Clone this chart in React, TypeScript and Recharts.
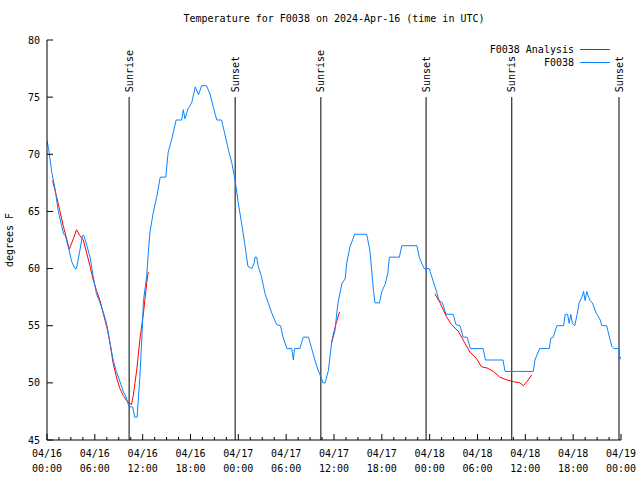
import * as React from 'react';
import { LineChart, Line, XAxis, YAxis, ReferenceLine } from 'recharts';

const FONT = '"DejaVu Sans Mono", "Liberation Mono", monospace';
const OBS_COLOR = '#0a84ff';
const ANA_COLOR = '#ff0000';

// station observations (hours since 04/16 00:00 UTC, degrees F)
const obsHours = [
  0.0, 0.2, 0.4, 0.6, 1.0, 1.4, 1.85, 2.1, 2.3, 2.7, 3.1, 3.5, 3.7, 4.1, 4.45, 4.6, 4.8, 5.0,
  5.4, 5.8, 6.2, 6.6, 7.1, 7.5, 7.9, 8.3, 8.7, 9.2, 9.6, 9.9, 10.2, 10.3, 10.75, 11.0, 11.3,
  11.65, 11.9, 12.1, 12.5, 12.7, 12.9, 13.3, 13.8, 14.2, 14.9, 15.2, 15.6, 16.2, 16.9, 17.1,
  17.3, 17.7, 18.15, 18.6, 19.0, 19.4, 20.0, 20.45, 20.9, 21.3, 21.9, 22.3, 22.75, 23.2, 23.6,
  24.0, 24.4, 24.8, 25.2, 25.7, 26.0, 26.1, 26.3, 26.5, 26.9, 27.35, 27.75, 28.2, 28.8, 29.3,
  29.6, 30.1, 30.7, 30.9, 31.05, 31.7, 32.15, 32.8, 33.2, 33.6, 34.0, 34.5, 34.6, 34.9, 35.0,
  35.3, 35.7, 36.1, 36.5, 37.0, 37.4, 37.6, 38.0, 38.6, 40.1, 40.5, 40.95, 41.15, 41.7, 42.0,
  42.4, 42.75, 42.95, 44.2, 44.5, 46.4, 46.7, 47.1, 47.3, 47.95, 48.4, 48.8, 49.2, 49.6, 50.05,
  50.95, 51.3, 51.8, 52.2, 52.7, 53.1, 54.7, 55.0, 57.2, 57.45, 61.0, 61.2, 61.8, 63.0, 63.2,
  63.5, 63.95, 64.8, 65.0, 65.3, 65.5, 65.7, 65.9, 66.2, 66.5, 66.75, 67.1, 67.3, 67.5, 67.7,
  68.1, 68.4, 68.9, 69.4, 69.6, 70.2, 70.55, 70.85, 71.1, 71.7, 71.8, 72.0,
];
const obsTemps = [
  71.2, 70.5, 69.5, 68.4, 67.0, 65.1, 63.7, 63.0, 62.9, 61.8, 60.6, 60.0, 60.0, 61.5, 62.9, 62.9, 62.5, 62.0,
  61.0, 59.3, 57.8, 57.1, 56.1, 55.1, 53.5, 52.0, 51.0, 50.0, 49.2, 48.8, 48.1, 47.9, 47.9, 47.0, 47.0,
  50.5, 54.0, 57.2, 59.3, 61.3, 63.1, 64.8, 66.4, 68.0, 68.0, 70.2, 71.2, 73.0, 73.0, 73.9,
  73.1, 74.0, 74.5, 75.9, 75.2, 76.0, 76.0, 75.3, 74.0, 73.0, 73.0, 71.8, 70.4, 69.2, 67.7,
  65.7, 64.0, 62.2, 60.2, 60.0, 60.5, 61.0, 61.0, 60.2, 59.3, 57.8, 57.0, 56.1, 55.1, 55.0,
  54.0, 53.0, 53.0, 52.0, 53.0, 53.0, 54.0, 54.0, 53.0, 52.0, 51.1, 50.3, 50.0, 50.0, 50.3,
  51.1, 53.5, 54.5, 57.0, 58.7, 59.1, 60.5, 61.9, 63.0, 63.0, 61.6, 58.1, 57.0, 57.0, 58.0,
  58.6, 59.6, 61.0, 61.0, 62.0, 62.0, 61.0, 60.3, 60.0, 60.0, 59.0, 58.1, 57.2, 57.0, 56.0,
  56.0, 55.1, 55.0, 54.0, 54.0, 53.0, 53.0, 52.0, 52.0, 51.0, 51.0, 52.0, 53.0, 53.0, 53.9,
  54.0, 55.0, 55.0, 56.0, 56.0, 55.2, 56.0, 55.2, 55.0, 56.0, 57.0, 57.5, 58.0, 57.2, 58.0,
  57.2, 57.0, 56.1, 55.5, 55.0, 55.0, 54.0, 53.2, 53.0, 53.0, 52.0, 52.3,
];

// analysis (three separate runs, null = gap)
const anaHours = [
  0.7, 1.2, 1.6, 2.05, 2.5, 2.8, 3.3, 3.7, 4.1, 4.55, 5.0, 5.4, 5.8, 6.2, 6.65, 7.05, 7.5, 7.9,
  8.3, 8.75, 9.15, 9.55, 10.05, 10.6, 10.8, 11.25, 11.65, 12.1, 12.5, 12.7,
  24.0,
  35.7, 36.0, 36.3, 36.7,
  42.0,
  48.65, 49.3, 50.1, 50.75, 51.6, 52.4, 53.05, 53.9, 54.5, 55.2, 56.0, 56.8, 57.7, 58.5, 59.3,
  59.75, 60.2, 60.8,
];
const anaTemps = [
  67.7, 66.3, 65.1, 63.7, 62.5, 61.7, 62.6, 63.4, 62.9, 62.5, 61.3, 60.2, 59.0, 58.1, 57.2, 56.1, 54.9, 53.5,
  51.7, 50.4, 49.5, 48.9, 48.4, 48.1, 48.8, 51.1, 53.8, 56.1, 58.7, 59.7,
  null,
  53.5, 54.5, 55.3, 56.2,
  null,
  57.8, 57.0, 55.8, 55.1, 54.5, 53.5, 52.7, 52.1, 51.4, 51.3, 51.0, 50.5, 50.25, 50.1, 50.0,
  49.75, 50.1, 50.7,
];

const sunEvents = [
  { h: 10.3, name: 'Sunrise' },
  { h: 23.6, name: 'Sunset' },
  { h: 34.35, name: 'Sunrise' },
  { h: 47.55, name: 'Sunset' },
  { h: 58.3, name: 'Sunrise' },
  { h: 71.75, name: 'Sunset' },
];

const dateLabels = ['04/16', '04/16', '04/16', '04/16', '04/17', '04/17', '04/17', '04/17', '04/18', '04/18', '04/18', '04/18', '04/19'];
const timeLabels = ['00:00', '06:00', '12:00', '18:00', '00:00', '06:00', '12:00', '18:00', '00:00', '06:00', '12:00', '18:00', '00:00'];
const yTicks = [45, 50, 55, 60, 65, 70, 75, 80];

const xTicks: number[] = [];
for (let i = 0; i <= 48; i++) xTicks.push(i * 1.5);

const obsData = obsHours.map((h, i) => ({ h, t: obsTemps[i] }));
const anaData = anaHours.map((h, i) => ({ h, t: anaTemps[i] }));

const BottomTick = (props: any) => {
  const { x, y, payload } = props;
  const v = payload.value;
  const major = v % 6 === 0;
  const i = v / 6;
  return (
    <g>
      <line x1={x} x2={x} y1={y} y2={y - (major ? 6 : 3)} stroke="#000" />
      {major && (
        <text x={x} y={y + 17} textAnchor="middle" fontFamily={FONT} fontSize={10} fill="#000">
          {dateLabels[i]}
        </text>
      )}
      {major && (
        <text x={x} y={y + 32} textAnchor="middle" fontFamily={FONT} fontSize={10} fill="#000">
          {timeLabels[i]}
        </text>
      )}
    </g>
  );
};

const TopTick = (props: any) => {
  const { x, y, payload } = props;
  const major = payload.value % 6 === 0;
  return <line x1={x} x2={x} y1={y} y2={y + (major ? 6 : 3)} stroke="#000" />;
};

const LeftTick = (props: any) => {
  const { x, y, payload } = props;
  return (
    <g>
      <line x1={x} x2={x + 6} y1={y} y2={y} stroke="#000" />
      <text x={x - 7} y={y} dy="0.35em" textAnchor="end" fontFamily={FONT} fontSize={10} fill="#000">
        {payload.value}
      </text>
    </g>
  );
};

const RightTick = (props: any) => {
  const { x, y } = props;
  return <line x1={x} x2={x - 6} y1={y} y2={y} stroke="#000" />;
};

const sunLabel = (name: string) => (props: any) => {
  const vb = props.viewBox || {};
  const x = vb.x;
  const y = vb.y - 5;
  return (
    <text
      x={x}
      y={y}
      transform={`rotate(-90, ${x}, ${y})`}
      dominantBaseline="central"
      textAnchor="start"
      fontFamily={FONT}
      fontSize={10}
      fill="#000"
    >
      {name}
    </text>
  );
};

export default function App() {
  return (
    <div style={{ position: 'absolute', left: 0, top: 0, width: 640, height: 480, background: '#fff' }}>
      <div
        style={{
          position: 'absolute', left: 0, top: 13, width: 668, textAlign: 'center',
          fontFamily: FONT, fontSize: 10, lineHeight: '12px',
        }}
      >
        Temperature for F0038 on 2024-Apr-16 (time in UTC)
      </div>
      <div
        style={{
          position: 'absolute', left: 10, top: 240, width: 0, height: 0,
        }}
      >
        <div
          style={{
            position: 'absolute', left: -40, top: -6, width: 80, textAlign: 'center',
            fontFamily: FONT, fontSize: 10, lineHeight: '12px', transform: 'rotate(-90deg)', whiteSpace: 'nowrap',
          }}
        >
          degrees F
        </div>
      </div>
      <LineChart
        width={640}
        height={480}
        margin={{ top: 40, right: 19, bottom: 0, left: 0 }}
      >
        <XAxis
          xAxisId="bottom"
          dataKey="h"
          type="number"
          domain={[0, 72]}
          ticks={xTicks}
          interval={0}
          allowDataOverflow
          height={40}
          tickSize={0}
          tickMargin={0}
          tick={BottomTick}
          axisLine={{ stroke: '#000' }}
        />
        <XAxis
          xAxisId="top"
          orientation="top"
          dataKey="h"
          type="number"
          domain={[0, 72]}
          ticks={xTicks}
          interval={0}
          allowDataOverflow
          height={0}
          tickSize={0}
          tickMargin={0}
          tick={TopTick}
          axisLine={{ stroke: '#000' }}
        />
        <YAxis
          yAxisId="left"
          type="number"
          domain={[45, 80]}
          ticks={yTicks}
          interval={0}
          allowDataOverflow
          width={47}
          tickSize={0}
          tickMargin={0}
          tick={LeftTick}
          axisLine={{ stroke: '#000' }}
        />
        <YAxis
          yAxisId="right"
          orientation="right"
          type="number"
          domain={[45, 80]}
          ticks={yTicks}
          interval={0}
          allowDataOverflow
          width={0}
          tickSize={0}
          tickMargin={0}
          tick={RightTick}
          axisLine={{ stroke: '#000' }}
        />
        {sunEvents.map((s, i) => (
          <ReferenceLine
            key={i}
            xAxisId="bottom"
            yAxisId="left"
            segment={[{ x: s.h, y: 75.0 }, { x: s.h, y: 45 }]}
            stroke="#000"
            strokeWidth={1}
            label={sunLabel(s.name)}
          />
        ))}
        <Line
          xAxisId="bottom"
          yAxisId="left"
          data={anaData}
          dataKey="t"
          type="linear"
          stroke={ANA_COLOR}
          strokeWidth={1}
          dot={false}
          connectNulls={false}
          isAnimationActive={false}
        />
        <Line
          xAxisId="bottom"
          yAxisId="left"
          data={obsData}
          dataKey="t"
          type="linear"
          stroke={OBS_COLOR}
          strokeWidth={1}
          dot={false}
          isAnimationActive={false}
        />
      </LineChart>
      <div
        style={{
          position: 'absolute', left: 440, top: 43, width: 172,
          fontFamily: FONT, fontSize: 10, lineHeight: '13px',
        }}
      >
        {[
          { name: 'F0038 Analysis', color: ANA_COLOR },
          { name: 'F0038', color: OBS_COLOR },
        ].map((e) => (
          <div key={e.name} style={{ display: 'flex', justifyContent: 'flex-end', alignItems: 'center' }}>
            <span style={{ background: '#fff' }}>{e.name}</span>
            <span style={{ display: 'inline-block', width: 30, height: 1, background: e.color, marginLeft: 6, marginRight: 2 }} />
          </div>
        ))}
      </div>
    </div>
  );
}
